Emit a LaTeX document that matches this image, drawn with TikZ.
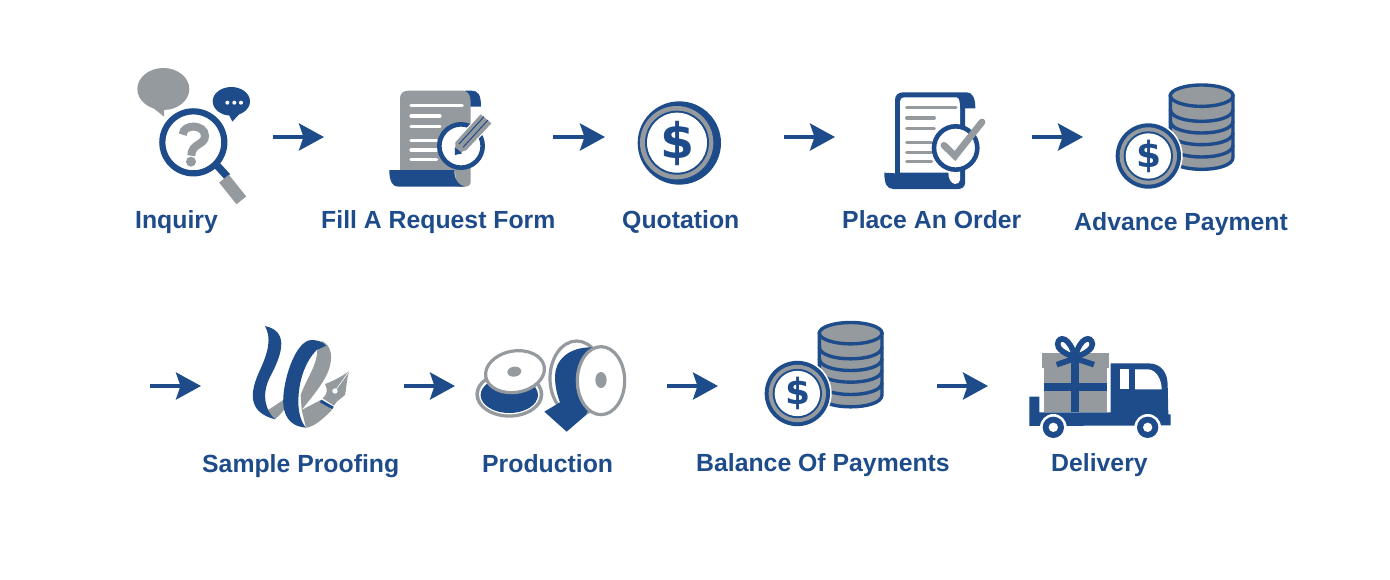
\documentclass[tikz,border=0pt]{standalone}
\usepackage{fontspec}
\setmainfont{Liberation Sans}
\newfontfamily\dollarfont{DejaVu Sans}
\usetikzlibrary{arrows.meta}
\definecolor{navy}{HTML}{1E4C8B}
\definecolor{stone}{HTML}{959A9E}
\tikzset{
  lab/.style={anchor=base west,inner sep=0pt,text=navy,font=\fontsize{24.8}{28}\selectfont\bfseries},
  flow/.style={draw=navy,line width=3.8pt,-{Stealth[length=25pt,width=27pt,inset=4.5pt,fill=navy]}},
  ruled/.style={line width=3.2pt,line cap=round},
  dollar/.style={inner sep=0pt,text=navy},
}
\newcommand{\coinstack}[2]{%
\begin{scope}[shift={(#1)},scale=0.33333]
  \fill[stone,draw=navy,line width=3.4pt] (211,78) -- (211,262) .. controls (211,310) and (399,310) .. (399,262) -- (399,78) -- cycle;
  \foreach \yy in {262,225,190,155}{
    \draw[navy,line width=3.4pt] (211,\yy-37) .. controls (211,\yy+11) and (399,\yy+11) .. (399,\yy-37);
  }
  \fill[stone,draw=navy,line width=3.4pt] (305,77) ellipse [x radius=94,y radius=32];
  \fill[white] (145,258) circle [radius=103];
  \fill[navy] (145,258) circle [radius=98];
  \fill[stone] (145,258) circle [radius=86];
  \fill[navy] (145,258) circle [radius=74];
  \fill[white] (145,258) circle [radius=68];
  \node[dollar,font=\dollarfont\fontsize{36}{36}\selectfont\bfseries] (#2) at (147,259) {\$};
\end{scope}}
\begin{document}
\begin{tikzpicture}[x=1pt,y=-1pt]
\useasboundingbox (0,0) rectangle (1390,579);
% ---- inquiry
\begin{scope}[shift={(120,60)},scale=0.33333]
  \fill[stone] (130,87) ellipse [x radius=78,y radius=63];
  \fill[stone] (95,140) -- (132,170) -- (132,140) -- cycle;
  \fill[navy] (334,124) ellipse [x radius=56,y radius=43];
  \fill[navy] (325,160) -- (337,185) -- (360,160) -- cycle;
  \fill[white] (322,128) circle [radius=6] (343,128) circle [radius=6] (363,128) circle [radius=6];
  \draw[navy,line width=6.2pt,fill=white] (220,247) circle [radius=93];
  \draw[navy,line width=7.5pt] (290,315) -- (322,350);
  \draw[stone,line width=12.5pt] (312,356) -- (364,421);
  \draw[stone,line width=8pt] (188,224) .. controls (190,190) and (255,192) .. (255,228) .. controls (255,255) and (214,250) .. (214,287);
  \fill[stone] (213,305) circle [radius=15];
\end{scope}
% ---- form
\begin{scope}[shift={(120,60)},scale=0.33333]
  \fill[navy] (1035,92) -- (1055,92) .. controls (1075,92) and (1083,105) .. (1083,140) -- (1050,140) -- cycle;
  \fill[stone] (840,335) -- (840,115) .. controls (840,100) and (850,92) .. (865,92) -- (1030,92) .. controls (1048,95) and (1052,110) .. (1052,130) -- (1052,365) .. controls (1052,375) and (1045,380) .. (1035,380) -- (1010,380) -- (1005,335) -- cycle;
  \fill[navy] (825,330) -- (1003,330) .. controls (1003,360) and (1015,375) .. (1035,380) -- (835,380) .. controls (818,380) and (808,365) .. (808,330) -- cycle;
  \foreach \yy/\xx in {137/1027,168/960,200/960,242/950,270/950,298/950}{
    \draw[white,ruled] (873,\yy) -- (\xx,\yy);
  }
  \draw[navy,line width=4.6pt,fill=white] (1023,258) circle [radius=65];
  \fill[stone,draw=white,line width=1pt] (1005,245) -- (1082,160) -- (1117,190) -- (1040,272) -- (1005,285) -- cycle;
  \draw[navy,line width=1pt] (1017,252) -- (1092,170) (1029,262) -- (1104,180);
  \fill[navy] (1005,285) -- (1005,262) -- (1027,280) -- cycle;
\end{scope}
% ---- quotation
\begin{scope}[shift={(620,70)},scale=0.33333]
  \fill[navy] (178,219) circle [radius=125];
  \fill[stone] (170,218) circle [radius=110];
  \fill[navy] (171,218) circle [radius=96];
  \fill[white] (171,218) circle [radius=90];
  \node[dollar,font=\dollarfont\fontsize{49}{49}\selectfont\bfseries] (d1) at (172,219) {\$};
\end{scope}
% ---- order
\begin{scope}[shift={(620,70)},scale=0.33333]
  \fill[navy] (825,310) -- (825,90) .. controls (825,75) and (835,67) .. (850,67) -- (1040,67) .. controls (1058,67) and (1066,85) .. (1066,115) -- (1035,115) -- (1035,340) .. controls (1035,350) and (1025,357) .. (1015,357) -- (820,357) .. controls (800,357) and (793,340) .. (793,308) -- cycle;
  \fill[white] (840,308) -- (840,95) .. controls (840,87) and (845,82) .. (852,82) -- (1010,82) .. controls (1018,85) and (1020,95) .. (1020,115) -- (1020,330) .. controls (1020,338) and (1012,342) .. (1005,342) .. controls (992,340) and (985,325) .. (985,308) -- cycle;
  \foreach \yy/\xx in {113/1008,144/943,176/943,218/935,247/935,275/935}{
    \draw[stone,ruled] (860,\yy) -- (\xx,\yy);
  }
  \draw[navy,line width=4.6pt,fill=white] (1007,234) circle [radius=65];
  \draw[stone,line width=6.8pt,line cap=round,line join=miter] (972,226) -- (1005,258) -- (1086,156);
\end{scope}
% ---- coins
\coinstack{1100,70}{d2}
\coinstack{749,307.5}{d3}
% ---- sample proofing
\begin{scope}[shift={(230,315)},scale=0.33333]
  \fill[stone] (110,288) -- (135,313) .. controls (150,300) and (165,285) .. (172,265) -- (160,255) -- cycle;
  \fill[stone] (262,105) -- (275,78) .. controls (305,90) and (312,130) .. (292,175) .. controls (275,212) and (250,240) .. (215,285) -- (212,240) .. controls (230,190) and (262,150) .. (262,105) -- cycle;
  \fill[stone] (215,285) -- (272,255) -- (306,285) .. controls (280,310) and (255,335) .. (228,338) -- cycle;
  \fill[navy] (105,33) .. controls (125,70) and (115,110) .. (90,165) .. controls (60,230) and (50,290) .. (135,313) .. controls (105,285) and (95,240) .. (118,190) .. controls (150,130) and (185,50) .. (105,33) -- cycle;
  \fill[navy] (245,75) .. controls (262,75) and (278,80) .. (288,92) -- (260,105) .. controls (225,140) and (205,200) .. (205,260) .. controls (205,290) and (212,320) .. (228,338) .. controls (190,335) and (165,315) .. (160,270) .. controls (155,205) and (195,75) .. (245,75) -- cycle;
  \fill[stone] (358,168) .. controls (335,185) and (305,200) .. (285,207) .. controls (295,225) and (290,240) .. (278,250) -- (312,272) .. controls (318,258) and (335,250) .. (345,240) .. controls (350,215) and (350,190) .. (358,168) -- cycle;
  \draw[white,line width=0.6pt] (315,228) -- (358,168);
  \fill[white] (315,228) circle [radius=8];
  \draw[navy,line width=3pt] (272,258) -- (309,279);
\end{scope}
% ---- production
\begin{scope}[shift={(230,315)},scale=0.33333]
  \fill[stone] (838,238) ellipse [x radius=102,y radius=70];
  \fill[white] (838,238) ellipse [x radius=91,y radius=60];
  \fill[navy] (838,240) ellipse [x radius=86,y radius=54];
  \draw[stone,line width=3.2pt,fill=white,rotate around={10:(855,170)}] (855,170) ellipse [x radius=89,y radius=62];
  \fill[stone,rotate around={8:(853,170)}] (853,170) ellipse [x radius=21,y radius=15];
  \draw[stone,line width=3.2pt,fill=white] (1040,190) ellipse [x radius=80,y radius=112];
  \fill[navy] (1090,97) .. controls (1010,95) and (975,140) .. (975,185) .. controls (975,220) and (985,250) .. (990,262) -- (943,290) -- (1010,350) -- (1068,300) -- (1110,200) -- cycle;
  \draw[stone,line width=3.2pt,fill=white] (1113,197) ellipse [x radius=71,y radius=102];
  \fill[stone] (1113,195) ellipse [x radius=17,y radius=24];
\end{scope}
% ---- delivery
\begin{scope}[shift={(1020,325)},scale=0.33333]
  \fill[navy] (28,215) -- (58,215) -- (58,262) -- (272,262) -- (272,115) -- (385,115) .. controls (425,115) and (443,145) .. (443,180) -- (445,268) -- (452,268) -- (452,301) -- (28,303) -- cycle;
  \fill[white] (300,133) rectangle (328,193);
  \fill[white] (345,133) -- (385,133) .. controls (410,135) and (425,165) .. (425,193) -- (345,193) -- cycle;
  \fill[stone] (65,85) rectangle (267,128);
  \fill[stone] (72,128) rectangle (260,260);
  \fill[navy] (153,85) rectangle (178,260);
  \fill[navy] (72,173) rectangle (260,198);
  \foreach \cx in {100,383}{
    \fill[white] (\cx,307) circle [radius=40];
    \fill[navy] (\cx,307) circle [radius=32];
    \fill[white] (\cx,307) circle [radius=14];
  }
  \draw[navy,line width=5.6pt] (165,97) .. controls (130,85) and (112,70) .. (113,57) .. controls (116,30) and (150,35) .. (165,97) .. controls (180,35) and (214,30) .. (217,57) .. controls (218,70) and (200,85) .. (165,97);
  \draw[navy,line width=5.6pt] (110,119) -- (165,100) -- (222,119);
\end{scope}
% ---- labels
\node[lab] (t1) at (135,228.5) {Inquiry};
\node[lab] (t2) at (321,228.5) {Fill A Request Form};
\node[lab] (t3) at (622,228.5) {Quotation};
\node[lab] (t4) at (842,228.5) {Place An Order};
\node[lab] (t5) at (1074,230.5) {Advance Payment};
\node[lab] (t6) at (202,472.5) {Sample Proofing};
\node[lab] (t7) at (482,472.5) {Production};
\node[lab] (t8) at (696,471.5) {Balance Of Payments};
\node[lab] (t9) at (1051,471.5) {Delivery};
% ---- arrows
\foreach \n/\xa/\xb/\yy in {1/273/324/137,2/553/605/137,3/784/835/137,4/1032/1083/137,5/150/201/386,6/404/455/386,7/667/718/386,8/937/988/386}{
  \coordinate (s\n) at (\xa,\yy);
  \coordinate (e\n) at (\xb,\yy);
  \draw[flow] (s\n) -- (e\n);
}
\end{tikzpicture}
\end{document}
